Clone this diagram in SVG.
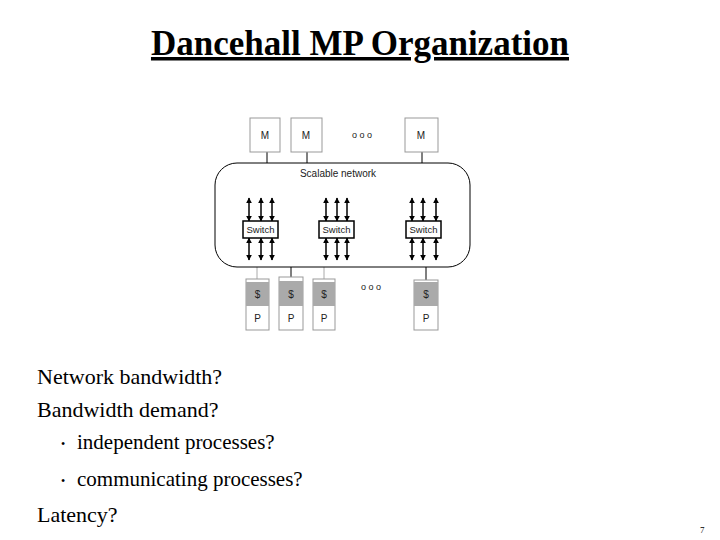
<svg xmlns="http://www.w3.org/2000/svg" width="720" height="540" viewBox="0 0 720 540">
<style>
.s{font-family:"Liberation Serif",serif;fill:#000}
.a{font-family:"Liberation Sans",Arial,sans-serif;fill:#222}
.box{fill:#fff;stroke:#999;stroke-width:1}
.sw{fill:#fff;stroke:#000;stroke-width:1.5}
.ar{stroke:#000;stroke-width:1.5;marker-start:url(#h);marker-end:url(#h)}
</style>
<defs><marker id="h" viewBox="0 0 10 10" refX="9" refY="5" markerWidth="4" markerHeight="4" orient="auto-start-reverse"><path d="M0,0L10,5L0,10z" fill="#000"/></marker></defs>
<rect width="720" height="540" fill="#fff"/>
<text class="s" x="360" y="55" font-size="35" font-weight="bold" text-anchor="middle" text-decoration="underline">Dancehall MP Organization</text>
<g id="connectors" stroke="#000" stroke-width="1">
<line x1="267" y1="152" x2="267" y2="163"/><line x1="307" y1="152" x2="307" y2="163"/><line x1="422" y1="152" x2="422" y2="163"/>
<line x1="257" y1="267" x2="257" y2="279" stroke="#aaa"/><line x1="291" y1="267" x2="291" y2="277"/><line x1="324" y1="267" x2="324" y2="279" stroke="#aaa"/><line x1="426" y1="267" x2="426" y2="280"/>
<g class="ar"><line x1="249" y1="198" x2="249" y2="221"/><line x1="261" y1="198" x2="261" y2="221"/><line x1="272" y1="198" x2="272" y2="221"/>
<line x1="249" y1="238" x2="249" y2="260"/><line x1="261" y1="238" x2="261" y2="260"/><line x1="272" y1="238" x2="272" y2="260"/>
<line x1="326" y1="198" x2="326" y2="221"/><line x1="337" y1="198" x2="337" y2="221"/><line x1="347" y1="198" x2="347" y2="221"/>
<line x1="326" y1="238" x2="326" y2="260"/><line x1="337" y1="238" x2="337" y2="260"/><line x1="347" y1="238" x2="347" y2="260"/>
<line x1="412" y1="198" x2="412" y2="221"/><line x1="423" y1="198" x2="423" y2="221"/><line x1="436" y1="198" x2="436" y2="221"/>
<line x1="412" y1="238" x2="412" y2="260"/><line x1="423" y1="238" x2="423" y2="260"/><line x1="436" y1="238" x2="436" y2="260"/></g>
</g>
<g id="network"><rect x="215" y="163" width="255" height="104" rx="22" fill="none" stroke="#000"/>
<text class="a" x="338" y="177" font-size="10" text-anchor="middle">Scalable network</text></g>
<g id="m1"><rect class="box" x="250" y="118" width="30" height="34"/><text class="a" x="265" y="139" font-size="10" text-anchor="middle">M</text></g>
<g id="m2"><rect class="box" x="291" y="118" width="31" height="34"/><text class="a" x="306" y="139" font-size="10" text-anchor="middle">M</text></g>
<g id="m3"><rect class="box" x="405" y="118" width="33" height="34"/><text class="a" x="421" y="139" font-size="10" text-anchor="middle">M</text></g>
<text class="a" x="362" y="138" font-size="9" text-anchor="middle">o o o</text>
<text class="a" x="371" y="290" font-size="9" text-anchor="middle">o o o</text>
<g id="sw1"><rect class="sw" x="243" y="221" width="35" height="17"/><text class="a" x="260.5" y="233" font-size="9.5" text-anchor="middle">Switch</text></g>
<g id="sw2"><rect class="sw" x="319" y="221" width="35" height="17"/><text class="a" x="336.5" y="233" font-size="9.5" text-anchor="middle">Switch</text></g>
<g id="sw3"><rect class="sw" x="406" y="221" width="35" height="17"/><text class="a" x="423.5" y="233" font-size="9.5" text-anchor="middle">Switch</text></g>
<g id="p1"><rect class="box" x="246" y="279" width="23" height="51"/><rect x="246" y="282" width="23" height="24" fill="#aaa"/><text class="a" x="257.5" y="298" font-size="10" text-anchor="middle">$</text><text class="a" x="257.5" y="322" font-size="10" text-anchor="middle">P</text></g>
<g id="p2"><rect class="box" x="279" y="277" width="24" height="53"/><rect x="279" y="281" width="24" height="25" fill="#aaa"/><text class="a" x="291" y="298" font-size="10" text-anchor="middle">$</text><text class="a" x="291" y="322" font-size="10" text-anchor="middle">P</text></g>
<g id="p3"><rect class="box" x="313" y="279" width="22" height="51"/><rect x="313" y="282" width="22" height="24" fill="#aaa"/><text class="a" x="324" y="298" font-size="10" text-anchor="middle">$</text><text class="a" x="324" y="322" font-size="10" text-anchor="middle">P</text></g>
<g id="p4"><rect class="box" x="414" y="280" width="24" height="50"/><rect x="414" y="282" width="24" height="24" fill="#aaa"/><text class="a" x="426" y="298" font-size="10" text-anchor="middle">$</text><text class="a" x="426" y="322" font-size="10" text-anchor="middle">P</text></g>
<text class="s" x="37" y="384" font-size="22">Network bandwidth?</text>
<text class="s" x="37" y="417" font-size="22">Bandwidth demand?</text>
<text class="s" x="61" y="448" font-size="12" fill="#555">•</text>
<text class="s" x="77" y="449" font-size="21">independent processes?</text>
<text class="s" x="61" y="485" font-size="12" fill="#555">•</text>
<text class="s" x="77" y="486" font-size="21">communicating processes?</text>
<text class="s" x="37" y="522" font-size="22">Latency?</text>
<text class="s" x="700" y="533" font-size="9">7</text>
</svg>
